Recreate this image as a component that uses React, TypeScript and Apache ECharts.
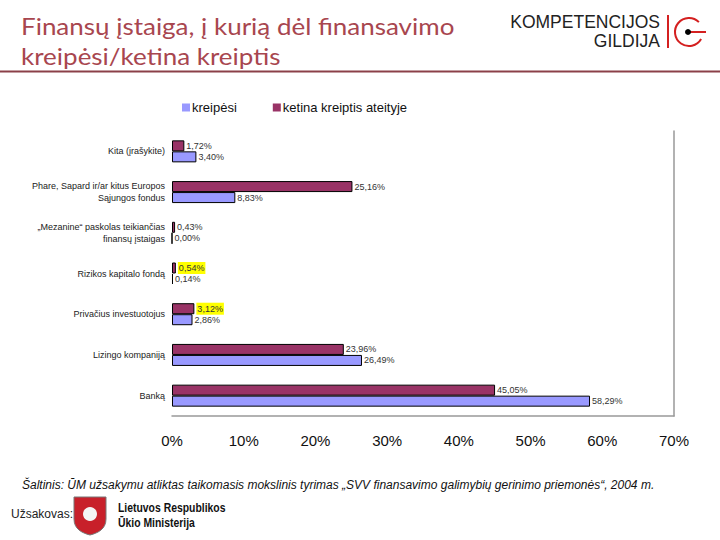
import React, { useEffect, useRef } from "react";
import * as echarts from "echarts";

const categories = [
  "Kita (įrašykite)",
  "Phare, Sapard ir/ar kitus Europos\nSąjungos fondus",
  "„Mezanine“ paskolas teikiančias\nfinansų įstaigas",
  "Rizikos kapitalo fondą",
  "Privačius investuotojus",
  "Lizingo kompaniją",
  "Banką",
];
const ketinaValues = [1.72, 25.16, 0.43, 0.54, 3.12, 23.96, 45.05];
const kreipesiValues = [3.4, 8.83, 0.0, 0.14, 2.86, 26.49, 58.29];
const highlightedKetina = [3, 4];
const seriesNames = ["kreipėsi", "ketina kreiptis ateityje"];
const xTicks = [0, 10, 20, 30, 40, 50, 60, 70];

const fmt = (v: number) => v.toFixed(2).replace(".", ",") + "%";

const shieldPath = "M0 0 L32 0 L32 22 C32 32 24 36 16 38 C8 36 0 32 0 22 Z";
echarts.graphic.registerShape("shield", echarts.graphic.extendPath(shieldPath, {}) as any);

export default function App() {
  const ref = useRef<HTMLDivElement>(null);
  useEffect(() => {
    if (!ref.current) return;
    const chart = echarts.init(ref.current, null, { renderer: "svg" });
    const labelStyle = {
      show: true,
      position: "right" as const,
      distance: 2,
      fontSize: 9,
      fontFamily: "Liberation Sans, Arial, sans-serif",
      color: "#333",
      formatter: (p: any) => fmt(p.value),
    };
    chart.setOption({
      animation: false,
      backgroundColor: "#ffffff",
      legend: {
        data: seriesNames,
        left: 177,
        top: 96,
        itemWidth: 8,
        itemHeight: 8,
        itemGap: 36,
        icon: "rect",
        itemStyle: { borderWidth: 0 },
        textStyle: { fontSize: 13, fontFamily: "Liberation Sans, Arial, sans-serif", color: "#111", padding: [0, 0, 0, -3] },
      },
      grid: { left: 172, right: 46, top: 131, bottom: 124, containLabel: false },
      xAxis: {
        type: "value",
        min: xTicks[0],
        max: xTicks[xTicks.length - 1],
        interval: 10,
        axisLine: { show: true, lineStyle: { color: "#999", width: 1.5 } },
        axisTick: { show: false },
        splitLine: { show: false },
        axisLabel: {
          formatter: "{value}%",
          fontSize: 15,
          fontFamily: "Liberation Sans, Arial, sans-serif",
          color: "#111",
          margin: 17,
        },
      },
      yAxis: [
        {
          type: "category",
          data: categories,
          inverse: true,
          axisLine: { show: false },
          axisTick: { show: false },
          axisLabel: {
            fontSize: 9,
            fontFamily: "Liberation Sans, Arial, sans-serif",
            color: "#222",
            margin: 7,
            lineHeight: 12,
          },
        },
        {
          type: "category",
          data: categories,
          inverse: true,
          position: "right",
          axisLine: { show: true, lineStyle: { color: "#999", width: 1.5 } },
          axisTick: { show: false },
          axisLabel: { show: false },
        },
      ],
      series: [
        {
          name: seriesNames[1],
          type: "bar",
          yAxisIndex: 0,
          barWidth: 11,
          barGap: "0%",
          itemStyle: { color: "#993366", borderColor: "#000", borderWidth: 1 },
          label: labelStyle,
          data: ketinaValues.map((v, i) =>
            highlightedKetina.includes(i)
              ? { value: v, label: { backgroundColor: "#ffff00", padding: [2, 1, 1, 1] } }
              : v
          ),
        },
        {
          name: seriesNames[0],
          type: "bar",
          yAxisIndex: 0,
          barWidth: 11,
          barGap: "0%",
          itemStyle: { color: "#9999ff", borderColor: "#000", borderWidth: 1 },
          label: labelStyle,
          data: kreipesiValues,
        },
      ],
      graphic: [
        {
          type: "text",
          x: 21,
          y: 11,
          scaleX: 1.13,
          style: {
            text: "Finansų įstaiga, į kurią dėl finansavimo\nkreipėsi/ketina kreiptis",
            fontSize: 23,
            lineHeight: 30,
            fontFamily: "Lato, 'Open Sans', sans-serif",
            fill: "#a8464f",
          },
        },
        {
          type: "line",
          shape: { x1: 0, y1: 71.5, x2: 720, y2: 71.5 },
          style: { stroke: "#8b4048", lineWidth: 2 },
        },
        {
          type: "text",
          x: 660,
          y: 13,
          style: {
            text: "KOMPETENCIJOS",
            align: "right",
            fontSize: 17.5,
            fontFamily: "Liberation Sans, Arial, sans-serif",
            fill: "#222",
          },
        },
        {
          type: "text",
          x: 660,
          y: 32,
          style: {
            text: "GILDIJA",
            align: "right",
            fontSize: 17.5,
            fontFamily: "Liberation Sans, Arial, sans-serif",
            fill: "#222",
          },
        },
        {
          type: "line",
          shape: { x1: 668, y1: 15, x2: 668, y2: 48 },
          style: { stroke: "#d42020", lineWidth: 2 },
        },
        {
          type: "arc",
          shape: { cx: 689, cy: 32, r: 14, startAngle: -Math.PI / 4, endAngle: Math.PI / 6, clockwise: false },
          style: { stroke: "#d42020", lineWidth: 2, fill: "none" },
        },
        {
          type: "line",
          shape: { x1: 689, y1: 32, x2: 706, y2: 32 },
          style: { stroke: "#d42020", lineWidth: 2 },
        },
        {
          type: "circle",
          shape: { cx: 688, cy: 32, r: 3 },
          style: { fill: "#000" },
        },
        {
          type: "text",
          x: 22,
          y: 479,
          style: {
            text: "Šaltinis: ŪM užsakymu atliktas taikomasis mokslinis tyrimas „SVV finansavimo galimybių gerinimo priemonės“, 2004 m.",
            fontSize: 12,
            fontStyle: "italic",
            fontFamily: "Liberation Sans, Arial, sans-serif",
            fill: "#111",
          },
        },
        {
          type: "text",
          x: 11,
          y: 508,
          style: {
            text: "Užsakovas:",
            fontSize: 12,
            fontFamily: "Liberation Sans, Arial, sans-serif",
            fill: "#222",
          },
        },
        {
          type: "shield",
          x: 74,
          y: 497,
          style: { fill: "#c8202a", stroke: "#777", lineWidth: 1 },
        },
        {
          type: "circle",
          shape: { cx: 90, cy: 514, r: 7 },
          style: { fill: "#f4f4f4" },
        },
        {
          type: "text",
          x: 118,
          y: 500,
          scaleX: 0.8,
          style: {
            text: "Lietuvos Respublikos\nŪkio Ministerija",
            fontSize: 13,
            lineHeight: 15,
            fontWeight: "bold",
            fontFamily: "Liberation Sans, Arial, sans-serif",
            fill: "#111",
          },
        },
      ],
    });
    return () => chart.dispose();
  }, []);
  return (
    <div
      ref={ref}
      style={{ position: "fixed", left: 0, top: 0, width: 720, height: 540 }}
    />
  );
}
